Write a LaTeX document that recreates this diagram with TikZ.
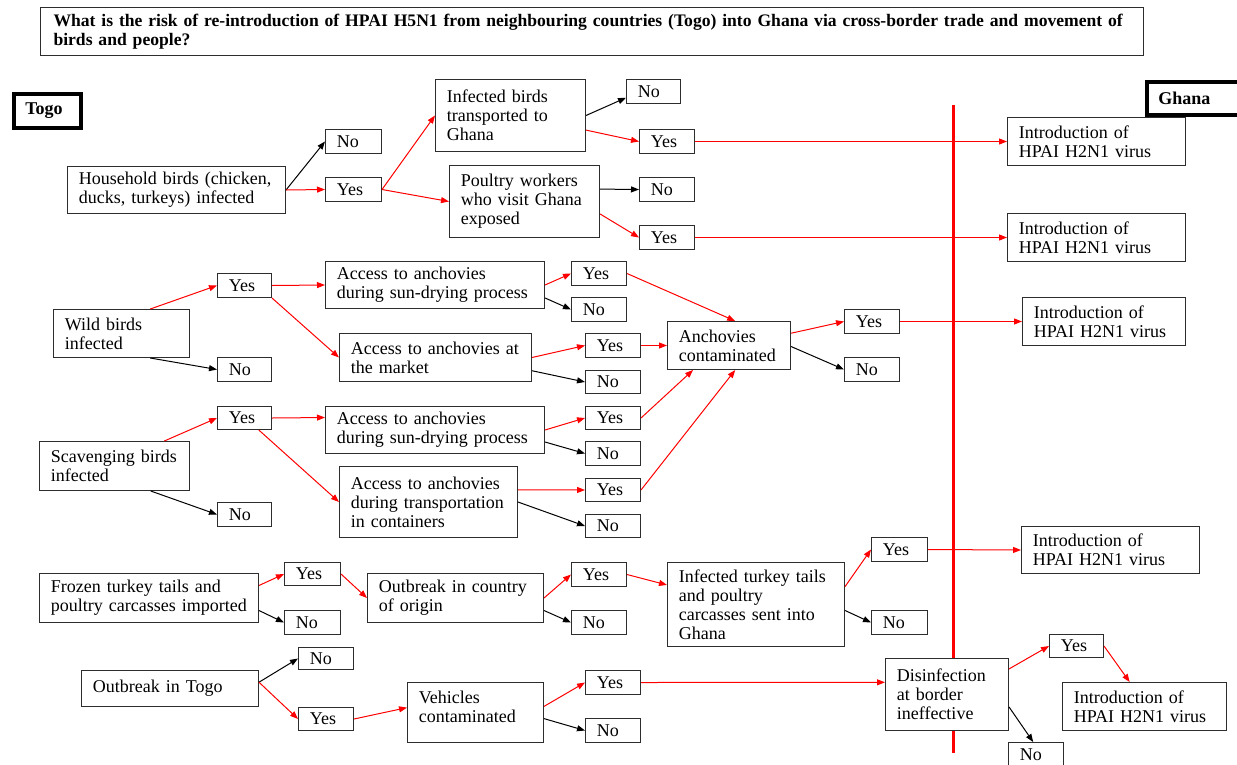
\documentclass[tikz,border=0pt]{standalone}
\usepackage{fontspec}
\setmainfont{Liberation Serif}
\usepackage{tikz}
\usetikzlibrary{
  arrows.meta,
  positioning,
  calc
}
\definecolor{boxline}{RGB}{45, 45, 45}
\definecolor{riskred}{RGB}{255, 0, 0}
\newcommand{\bodyfont}{\fontsize{13.5}{14.25}\selectfont}
\newcommand{\headfont}{\fontsize{13.2}{14.25}\selectfont\bfseries}
\tikzset{
  qbox/.style 2 args = {
    rectangle, draw=boxline, line width=0.75pt, fill=white,
    anchor=north west, minimum width=#1*0.75pt, minimum height=#2*0.75pt,
    text width=#1*0.75pt-17pt, inner xsep=8.5pt, inner ysep=0pt,
    align=left, font=\bodyfont
  },
  ans/.style = {qbox={55}{24}},
  region/.style 2 args = {
    qbox={#1}{#2}, draw=black, line width=3pt, font=\bodyfont\bfseries
  },
  titlebox/.style = {
    rectangle, draw=boxline, line width=0.75pt, anchor=north west,
    minimum width=1103*0.75pt, minimum height=48*0.75pt,
    text width=1103*0.75pt-19.5pt, inner xsep=9.75pt,
    align=left, font=\headfont
  },
  arrred/.style = {-{Triangle[length=6pt,width=4.5pt]}, draw=riskred, line width=0.75pt},
  arrblk/.style = {-{Triangle[length=6pt,width=4.5pt]}, draw=black, line width=0.75pt},
  border/.style = {draw=riskred, line width=2.25pt},
}

\begin{document}
\begin{tikzpicture}[x=0.75pt, y=-0.75pt]
  \useasboundingbox (0,0) rectangle (1237,764);

  %% border between Togo and Ghana
  \coordinate (bordertop) at (953,105);
  \coordinate (borderbot) at (953,753);
  \draw[border] (bordertop) -- (borderbot);

  %% heading
  \node[titlebox] (question) at (40,7)
    {\mbox{What is the risk of re-introduction of HPAI H5N1 from neighbouring countries (Togo) into Ghana via cross-border trade and movement of}\\birds and people?};
  \node[region={67}{34}] (togo) at (12,92) {Togo};
  \node[region={110}{33}] (ghana) at (1145,80) {Ghana};

  %% household birds
  \node[qbox={218}{47}] (hh) at (67,166) {Household birds (chicken,\\ducks, turkeys) infected};
  \node[qbox={56}{24}] (hhno)  at (325,129) {No};
  \node[qbox={56}{24}] (hhyes) at (325,177) {Yes};
  \node[qbox={150}{72}] (trans) at (435,79) {Infected birds\\transported to\\Ghana};
  \node[qbox={150}{72}] (work)  at (449,165) {Poultry workers\\who visit Ghana\\exposed};
  \node[qbox={54}{24}] (transno) at (626,79) {No};
  \node[ans] (transyes) at (639,129) {Yes};
  \node[ans] (workno)   at (639,177) {No};
  \node[ans] (workyes)  at (639,225) {Yes};
  \node[qbox={178}{48}] (intro1) at (1007,117) {Introduction of\\HPAI H2N1 virus};
  \node[qbox={178}{48}] (intro2) at (1007,213) {Introduction of\\HPAI H2N1 virus};

  %% wild birds
  \node[qbox={136}{48}] (wild) at (53,309) {Wild birds\\infected};
  \node[qbox={54}{24}] (wildyes) at (217,273) {Yes};
  \node[qbox={54}{24}] (wildno)  at (217,357) {No};
  \node[qbox={219}{47}] (sunA) at (325,261) {Access to anchovies\\during sun-drying process};
  \node[qbox={192}{48}] (mkt)  at (339,333) {Access to anchovies at\\the market};
  \node[ans] (sunAyes) at (571,261) {Yes};
  \node[ans] (sunAno)  at (571,297) {No};
  \node[ans] (mktyes)  at (585,333) {Yes};
  \node[qbox={55}{23}] (mktno) at (585,370) {No};
  \node[qbox={123}{48}] (anch) at (667,321) {Anchovies\\contaminated};
  \node[ans] (anchyes) at (844,309) {Yes};
  \node[ans] (anchno)  at (844,357) {No};
  \node[qbox={163}{48}] (intro3) at (1022,297) {Introduction of\\HPAI H2N1 virus};

  %% scavenging birds
  \node[qbox={150}{49}] (scav) at (39,441) {Scavenging birds\\infected};
  \node[qbox={54}{23}] (scavyes) at (217,406) {Yes};
  \node[qbox={54}{24}] (scavno)  at (217,502) {No};
  \node[qbox={219}{47}] (sunB) at (325,406) {Access to anchovies\\during sun-drying process};
  \node[qbox={178}{71}] (cont) at (339,466) {Access to anchovies\\during transportation\\in containers};
  \node[qbox={55}{23}] (sunByes) at (585,406) {Yes};
  \node[ans] (sunBno) at (585,441) {No};
  \node[qbox={55}{23}] (contyes) at (585,478) {Yes};
  \node[qbox={55}{23}] (contno)  at (585,514) {No};

  %% frozen imports
  \node[qbox={219}{49}] (frozen) at (39,573) {Frozen turkey tails and\\poultry carcasses imported};
  \node[qbox={56}{23}] (frozenyes) at (284,562) {Yes};
  \node[qbox={56}{24}] (frozenno)  at (284,610) {No};
  \node[qbox={176}{49}] (origin) at (367,573) {Outbreak in country\\of origin};
  \node[ans] (originyes) at (571,562) {Yes};
  \node[ans] (originno)  at (571,610) {No};
  \node[qbox={177}{84}] (tails) at (667,562) {Infected turkey tails\\and poultry\\carcasses sent into\\Ghana};
  \node[qbox={56}{24}] (tailsyes) at (871,537) {Yes};
  \node[qbox={56}{24}] (tailsno)  at (871,610) {No};
  \node[qbox={178}{47}] (intro4) at (1021,526) {Introduction of\\HPAI H2N1 virus};

  %% outbreak in Togo
  \node[qbox={177}{36}] (outbreak) at (81,670) {Outbreak in Togo};
  \node[qbox={55}{22}] (outno)  at (298,647) {No};
  \node[qbox={55}{23}] (outyes) at (298,707) {Yes};
  \node[qbox={136}{60}] (veh) at (407,682) {Vehicles\\contaminated\\[-6pt]\mbox{}};
  \node[ans] (vehyes) at (585,670) {Yes};
  \node[ans] (vehno)  at (585,718) {No};
  \node[qbox={123}{72}] (disinf) at (885,658) {Disinfection\\at border\\ineffective};
  \node[qbox={54}{23}] (disyes) at (1049,634) {Yes};
  \node[ans] (disno) at (1008,742) {No};
  \node[qbox={164}{48}] (intro5) at (1062,682) {Introduction of\\HPAI H2N1 virus};

  %% household arrows
  \draw[arrblk] (hh.east) -- (hhno.west);
  \draw[arrred] (hh.east) -- (hhyes.west);
  \draw[arrred] (hhyes.east) -- (trans.west);
  \draw[arrred] (hhyes.east) -- (work.west);
  \draw[arrblk] (trans.east) -- ($(transno.west)!0.5!(transno.south west)$);
  \draw[arrred] ($(trans.north east)!0.7!(trans.south east)$) -- (transyes.west);
  \draw[arrblk] ($(work.north east)!0.33!(work.south east)$) -- (workno.west);
  \draw[arrred] ($(work.north east)!0.67!(work.south east)$) -- (workyes.west);
  \draw[arrred] (transyes.east) -- (intro1.west);
  \draw[arrred] (workyes.east) -- (intro2.west);

  %% wild bird arrows
  \draw[arrred] ($(wild.north west)!0.71!(wild.north east)$) -- (wildyes.west);
  \draw[arrblk] ($(wild.south west)!0.71!(wild.south east)$) -- (wildno.west);
  \draw[arrred] (wildyes.east) -- (sunA.west);
  \draw[arrred] (wildyes.south east) -- (mkt.west);
  \draw[arrred] (sunA.east) -- (sunAyes.west);
  \draw[arrblk] ($(sunA.north east)!0.77!(sunA.south east)$) -- (sunAno.west);
  \draw[arrred] (mkt.east) -- (mktyes.west);
  \draw[arrblk] ($(mkt.north east)!0.77!(mkt.south east)$) -- (mktno.west);
  \draw[arrred] (sunAyes.east) -- ($(anch.north west)!0.55!(anch.north east)$);
  \draw[arrred] (mktyes.east) -- (anch.west);
  \draw[arrred] ($(anch.north east)!0.25!(anch.south east)$) -- (anchyes.west);
  \draw[arrblk] ($(anch.north east)!0.52!(anch.south east)$) -- (anchno.west);
  \draw[arrred] (anchyes.east) -- (intro3.west);

  %% scavenging bird arrows
  \draw[arrred] ($(scav.north west)!0.83!(scav.north east)$) -- (scavyes.west);
  \draw[arrblk] ($(scav.south west)!0.74!(scav.south east)$) -- (scavno.west);
  \draw[arrred] (scavyes.east) -- ($(sunB.north west)!0.24!(sunB.south west)$);
  \draw[arrred] ($(scavyes.south west)!0.76!(scavyes.south east)$) -- (cont.west);
  \draw[arrred] (sunB.east) -- (sunByes.west);
  \draw[arrblk] ($(sunB.north east)!0.75!(sunB.south east)$) -- (sunBno.west);
  \draw[arrred] ($(cont.north east)!0.33!(cont.south east)$) -- (contyes.west);
  \draw[arrblk] (cont.east) -- (contno.west);
  \draw[arrred] (sunByes.east) -- ($(anch.south west)!0.21!(anch.south east)$);
  \draw[arrred] (contyes.east) -- ($(anch.south west)!0.55!(anch.south east)$);

  %% frozen import arrows
  \draw[arrred] ($(frozen.north east)!0.25!(frozen.south east)$) -- (frozenyes.west);
  \draw[arrblk] ($(frozen.north east)!0.75!(frozen.south east)$) -- (frozenno.west);
  \draw[arrred] (frozenyes.east) -- (origin.west);
  \draw[arrred] (origin.east) -- (originyes.west);
  \draw[arrblk] ($(origin.north east)!0.75!(origin.south east)$) -- (originno.west);
  \draw[arrred] (originyes.east) -- ($(tails.north west)!0.27!(tails.south west)$);
  \draw[arrred] ($(tails.north east)!0.29!(tails.south east)$) -- (tailsyes.west);
  \draw[arrblk] ($(tails.north east)!0.57!(tails.south east)$) -- (tailsno.west);
  \draw[arrred] (tailsyes.east) -- (intro4.west);

  %% outbreak in Togo arrows
  \draw[arrblk] ($(outbreak.north east)!0.33!(outbreak.south east)$) -- (outno.west);
  \draw[arrred] ($(outbreak.north east)!0.33!(outbreak.south east)$) -- (outyes.west);
  \draw[arrred] (outyes.east) -- ($(veh.north west)!0.42!(veh.south west)$);
  \draw[arrred] ($(veh.north east)!0.4!(veh.south east)$) -- (vehyes.west);
  \draw[arrblk] ($(veh.north east)!0.6!(veh.south east)$) -- (vehno.west);
  \draw[arrred] (vehyes.east) -- ($(disinf.north west)!0.333!(disinf.south west)$);
  \draw[arrred] ($(disinf.north east)!0.15!(disinf.south east)$) -- (disyes.west);
  \draw[arrblk] ($(disinf.north east)!0.67!(disinf.south east)$) -- ($(disno.north west)!0.45!(disno.north east)$);
  \draw[arrred] (disyes.east) -- ($(intro5.north west)!0.41!(intro5.north east)$);

\end{tikzpicture}
\end{document}
